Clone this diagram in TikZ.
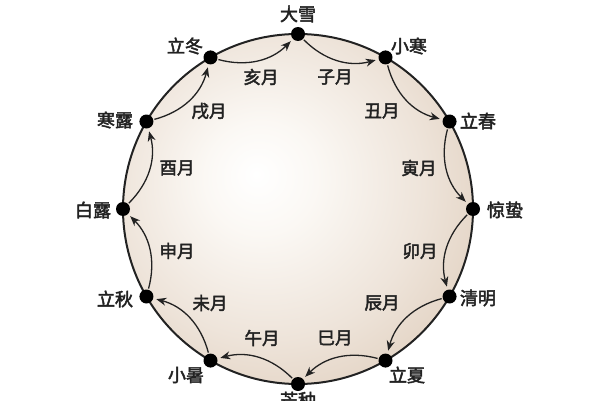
\documentclass[tikz,border=0pt]{standalone}
\usepackage{fontspec}
\newfontfamily\cjk[FakeBold=2.5]{Noto Sans CJK SC}
\usetikzlibrary{arrows.meta}
\definecolor{tanedge}{HTML}{D2BBA3}
\definecolor{tanmid}{HTML}{E0CFBE}
\definecolor{tanlight}{HTML}{EEE4DA}
\definecolor{tanpale}{HTML}{FBF8F4}
\definecolor{inkc}{HTML}{222222}
\pgfdeclareradialshading{discshade}{\pgfpoint{-6bp}{5bp}}{color(0bp)=(white); color(8bp)=(tanpale); color(22bp)=(tanlight); color(34bp)=(tanmid); color(46bp)=(tanedge); color(70bp)=(tanedge)}
\tikzset{
  dotnode/.style={circle, fill=black, inner sep=0pt, minimum size=14pt},
  termlabel/.style={font=\cjk\fontsize{18}{18}\selectfont, text=inkc, inner sep=0pt},
  monthlabel/.style={font=\cjk\fontsize{17.5}{18}\selectfont, text=inkc, inner sep=0pt},
  arr/.style={draw=inkc, line width=1.3pt, -{Stealth[length=10pt,width=8pt]}, shorten >=3pt, shorten <=1pt}
}
\begin{document}
\begin{tikzpicture}[x=1pt,y=1pt]
\useasboundingbox (0,0) rectangle (600,400);
\coordinate (c) at (298,191);
\path[shading=discshade] (c) circle (175);
\draw[inkc, line width=2pt] (c) circle (175);
% dots
\node[dotnode] (dx) at ([shift={(c)}]90:175) {};
\node[dotnode] (xh) at ([shift={(c)}]60:175) {};
\node[dotnode] (lc) at ([shift={(c)}]30:175) {};
\node[dotnode] (jz) at ([shift={(c)}]0:175) {};
\node[dotnode] (qm) at ([shift={(c)}]-30:175) {};
\node[dotnode] (lx) at ([shift={(c)}]-60:175) {};
\node[dotnode] (mz) at ([shift={(c)}]-90:175) {};
\node[dotnode] (xs) at ([shift={(c)}]-120:175) {};
\node[dotnode] (lq) at ([shift={(c)}]-150:175) {};
\node[dotnode] (bl) at ([shift={(c)}]180:175) {};
\node[dotnode] (hl) at ([shift={(c)}]150:175) {};
\node[dotnode] (ld) at ([shift={(c)}]120:175) {};
% term labels
\node[termlabel] (tdx) at (298,386) {大雪};
\node[termlabel] (txh) at (409,354) {小寒};
\node[termlabel] (tlc) at (478,279) {立春};
\node[termlabel] (tjz) at (505,190) {惊蛰};
\node[termlabel] (tqm) at (478,102) {清明};
\node[termlabel] (tlx) at (407,25) {立夏};
\node[termlabel] (tmz) at (298,0) {芒种};
\node[termlabel] (txs) at (186,25) {小暑};
\node[termlabel] (tlq) at (115,101) {立秋};
\node[termlabel] (tbl) at (93,190) {白露};
\node[termlabel] (thl) at (115,280) {寒露};
\node[termlabel] (tld) at (185,354) {立冬};
% month labels
\node[monthlabel] (mzi) at (335,323) {子月};
\node[monthlabel] (mch) at (382,289) {丑月};
\node[monthlabel] (myin) at (419,232) {寅月};
\node[monthlabel] (mmao) at (420,149) {卯月};
\node[monthlabel] (mchen) at (382,97) {辰月};
\node[monthlabel] (msi) at (335,62) {巳月};
\node[monthlabel] (mwu) at (262,62) {午月};
\node[monthlabel] (mwei) at (210,97) {未月};
\node[monthlabel] (mshen) at (177,149) {申月};
\node[monthlabel] (myou) at (177,232) {酉月};
\node[monthlabel] (mxu) at (209,289) {戌月};
\node[monthlabel] (mhai) at (261,323) {亥月};
% arrows
\draw[arr] (dx) to[bend right=30] (xh);
\draw[arr] (xh) to[bend right=30] (lc);
\draw[arr] (lc) to[bend right=30] (jz);
\draw[arr] (jz) to[bend right=30] (qm);
\draw[arr] (qm) to[bend right=30] (lx);
\draw[arr] (lx) to[bend right=30] (mz);
\draw[arr] (mz) to[bend right=30] (xs);
\draw[arr] (xs) to[bend right=30] (lq);
\draw[arr] (lq) to[bend right=30] (bl);
\draw[arr] (bl) to[bend right=30] (hl);
\draw[arr] (hl) to[bend right=30] (ld);
\draw[arr] (ld) to[bend right=30] (dx);
\end{tikzpicture}
\end{document}
